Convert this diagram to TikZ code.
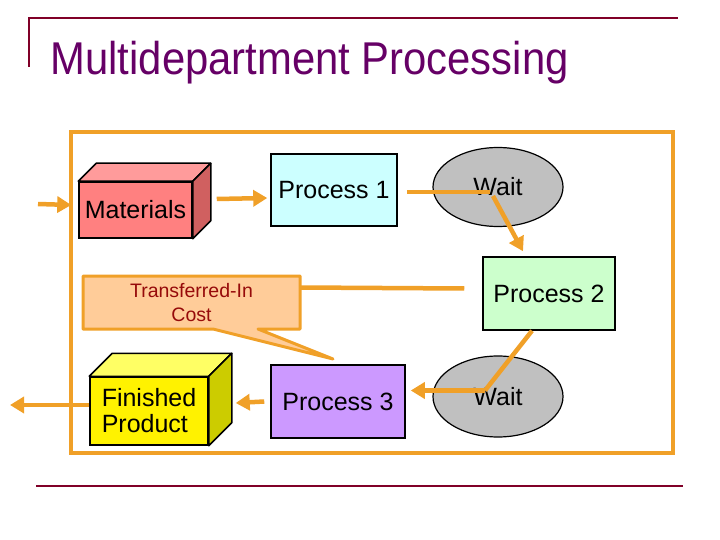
\documentclass[tikz,border=0pt]{standalone}
\usepackage{fontspec}
\setmainfont{Liberation Sans}
\usetikzlibrary{arrows.meta, shapes.geometric}

\definecolor{maroon}{RGB}{128,0,40}
\definecolor{titlepurple}{RGB}{102,0,102}
\definecolor{frameorange}{RGB}{240,160,40}
\definecolor{procone}{RGB}{204,255,255}
\definecolor{proctwo}{RGB}{204,255,204}
\definecolor{procthree}{RGB}{204,153,255}
\definecolor{waitgray}{RGB}{192,192,192}
\definecolor{peach}{RGB}{255,204,153}
\definecolor{darkred}{RGB}{150,10,10}

\begin{document}
\begin{tikzpicture}[x=1pt, y=-1pt]
\tikzstyle{procbox} = [rectangle, draw=black, line width=1.5pt, minimum width=126pt, minimum height=72pt, font=\fontsize{25}{28}\selectfont]
\tikzstyle{waitnode} = [ellipse, draw=black, line width=1.2pt, fill=waitgray, minimum width=130pt, minimum height=79pt, font=\fontsize{25}{28}\selectfont]
\tikzstyle{front} = [rectangle, draw=black, line width=1.5pt, font=\fontsize{25}{26}\selectfont]
\tikzstyle{face} = [draw=black, line width=1.5pt, line join=round]
\tikzstyle{arrow} = [frameorange, line width=4.5pt, -{Triangle[length=14pt,width=16pt]}]
\tikzstyle{noarrow} = [frameorange, line width=4.5pt]
\tikzstyle{rule} = [maroon, line width=2.5pt]

\useasboundingbox (0,0) rectangle (720,540);

%rules and title
\draw [rule] (29,67) -- (29,18) -- (678,18);
\draw [rule] (36,486) -- (683,486);
\node (title) [anchor=base west, text=titlepurple, font=\fontsize{41.8}{46}\selectfont] at (47,75) {\scalebox{1}[1.1]{Multidepartment Processing}};

%frame
\draw [frameorange, line width=3.8pt] (71,132) rectangle (673,453);

%node
\node (mat) [front, fill={rgb,255:red,255;green,128;blue,128}, minimum width=113pt, minimum height=56pt] at (135.5,210) {Materials};
\filldraw [face, fill={rgb,255:red,255;green,155;blue,155}] (mat.north west) -- ([shift={(18,-18)}]mat.north west) -- ([shift={(18,-18)}]mat.north east) -- (mat.north east) -- cycle;
\filldraw [face, fill={rgb,255:red,208;green,96;blue,96}] (mat.north east) -- ([shift={(18,-18)}]mat.north east) -- ([shift={(18,-18)}]mat.south east) -- (mat.south east) -- cycle;

\node (p1) [procbox, fill=procone] at (334,190) {Process 1};
\node (w1) [waitnode] at (498,187) {Wait};
\node (p2) [procbox, fill=proctwo, minimum width=132pt, minimum height=73pt] at (549,293.5) {Process 2};
\node (w2) [waitnode, minimum height=81pt] at (498,396.5) {Wait};
\node (p3) [procbox, fill=procthree, minimum width=134pt, minimum height=73pt] at (338,401.5) {Process 3};

\node (fp) [front, fill=yellow, minimum width=118pt, minimum height=68pt, align=left] at (149,411) {Finished\\Product};
\filldraw [face, fill={rgb,255:red,255;green,255;blue,100}] (fp.north west) -- ([shift={(23,-23)}]fp.north west) -- ([shift={(23,-23)}]fp.north east) -- (fp.north east) -- cycle;
\filldraw [face, fill={rgb,255:red,204;green,204;blue,0}] (fp.north east) -- ([shift={(23,-23)}]fp.north east) -- ([shift={(23,-23)}]fp.south east) -- (fp.south east) -- cycle;

%callout
\coordinate (tip) at (333,359);
\filldraw [draw=frameorange, fill=peach, line width=3pt, line join=round] (83,276) -- (300,276) -- (300,329) -- (258,329) -- (tip) -- (213,329) -- (83,329) -- cycle;
\node (tic) [text=darkred, minimum width=217pt, minimum height=53pt, align=center, font=\fontsize{19.5}{24}\selectfont] at (191.5,302.5) {Transferred-In\\Cost};

%free ends
\coordinate (in) at (38,204);
\coordinate (out) at (10,405);

%lines
\draw [arrow] (in) -- ([xshift=-7pt,yshift=5pt]mat.west);
\draw [arrow] ([xshift=24pt,yshift=11pt]mat.east) -- ([xshift=-3pt,yshift=-8pt]p1.west);
\draw [noarrow] ([xshift=9pt,yshift=-2pt]p1.east) -- ([xshift=-8pt,yshift=-5pt]w1.center);
\draw [arrow] ([xshift=-5pt,yshift=-9pt]w1.center) -- ([xshift=-26pt,yshift=5pt]p2.north);
\draw [noarrow] ([yshift=15pt]tic.east) -- ([xshift=-18pt,yshift=5pt]p2.west);
\draw [noarrow] ([xshift=-17pt]p2.south) -- ([xshift=-13pt,yshift=6pt]w2.center);
\draw [arrow] ([xshift=-13pt,yshift=6pt]w2.center) -- ([xshift=5pt,yshift=11pt]p3.east);
\draw [arrow] ([xshift=-6pt]p3.west) -- ([xshift=27pt,yshift=8pt]fp.east);
\draw [arrow] ([yshift=6pt]fp.west) -- (out);

\end{tikzpicture}
\end{document}
